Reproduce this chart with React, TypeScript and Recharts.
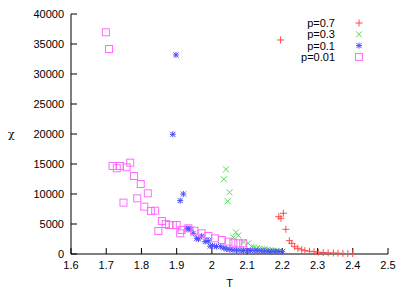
import { Legend, Scatter, ScatterChart, XAxis, YAxis } from "recharts";

// p = 0.7
const tP07 = [2.195, 2.203, 2.19, 2.196, 2.21, 2.22, 2.227, 2.235, 2.244, 2.255, 2.264, 2.277, 2.29, 2.302, 2.316, 2.33, 2.345, 2.358, 2.372, 2.386, 2.4];
const chiP07 = [35670, 6780, 6220, 5940, 4110, 2220, 1780, 1220, 940, 700, 560, 460, 380, 300, 250, 200, 160, 130, 100, 80, 60];

// p = 0.3
const tP03 = [2.04, 2.034, 2.05, 2.045, 2.068, 2.075, 2.061, 2.09, 2.103, 2.113, 2.12, 2.127, 2.135, 2.143, 2.15, 2.158, 2.166, 2.174, 2.182, 2.19, 2.2];
const chiP03 = [14110, 12450, 10280, 8780, 3600, 3100, 2780, 2000, 1780, 1220, 1100, 940, 880, 820, 750, 690, 630, 570, 520, 460, 400];

// p = 0.1
const tP01 = [1.898, 1.889, 1.919, 1.91, 1.929, 1.935, 1.94, 1.947, 1.957, 1.962, 1.971, 1.981, 1.986, 1.99, 1.995, 2.002, 2.013, 2.025, 2.034, 2.042, 2.051, 2.06, 2.07, 2.08, 2.09, 2.1, 2.11, 2.12, 2.13, 2.14, 2.15, 2.16, 2.17, 2.18, 2.19, 2.2];
const chiP01 = [33170, 19950, 10000, 8890, 4280, 4200, 4170, 3450, 2610, 2500, 3000, 2060, 2330, 2220, 1330, 1390, 1250, 1220, 1000, 830, 750, 680, 650, 620, 600, 580, 560, 540, 520, 500, 480, 460, 440, 420, 400, 380];

// p = 0.01
const tP001 = [1.699, 1.708, 1.718, 1.73, 1.739, 1.758, 1.768, 1.779, 1.798, 1.818, 1.749, 1.788, 1.808, 1.827, 1.839, 1.858, 1.848, 1.869, 1.878, 1.889, 1.9, 1.91, 1.914, 1.933, 1.95, 1.971, 1.99, 2.009, 2.028, 2.047, 2.061, 2.075, 2.089];
const chiP001 = [36950, 34170, 14670, 14280, 14670, 14450, 15220, 13000, 11670, 10110, 8560, 9280, 7890, 7170, 7220, 5500, 3830, 5000, 4830, 4830, 4830, 3450, 4000, 4280, 3880, 3450, 3000, 2610, 2330, 2060, 1890, 1780, 1780];

const xTicks = [1.6, 1.7, 1.8, 1.9, 2, 2.1, 2.2, 2.3, 2.4, 2.5];
const yTicks = [0, 5000, 10000, 15000, 20000, 25000, 30000, 35000, 40000];
const seriesNames = ["p=0.7", "p=0.3", "p=0.1", "p=0.01"];

const RED = "#ff4a4a";
const GREEN = "#4ee04e";
const BLUE = "#4a4aff";
const MAGENTA = "#ff6aff";
const FONT = "'Liberation Sans', Arial, sans-serif";

function pairs(ts: number[], chis: number[]) {
  return ts.map((t, i) => ({ t, chi: chis[i] }));
}

type Pt = { cx?: number; cy?: number };

function Plus({ cx = 0, cy = 0 }: Pt) {
  return <path d={`M${cx - 3.5},${cy}h7M${cx},${cy - 3.5}v7`} stroke={RED} strokeWidth={1} fill="none" />;
}

function Cross({ cx = 0, cy = 0 }: Pt) {
  return <path d={`M${cx - 3},${cy - 3}l6,6M${cx - 3},${cy + 3}l6,-6`} stroke={GREEN} strokeWidth={1} fill="none" />;
}

function Star({ cx = 0, cy = 0 }: Pt) {
  return (
    <path
      d={`M${cx - 3},${cy}h6M${cx},${cy - 3}v6M${cx - 2.5},${cy - 2.5}l5,5M${cx - 2.5},${cy + 2.5}l5,-5`}
      stroke={BLUE}
      strokeWidth={1}
      fill="none"
    />
  );
}

function Box({ cx = 0, cy = 0 }: Pt) {
  return <rect x={cx - 3.5} y={cy - 3.5} width={7} height={7} stroke={MAGENTA} strokeWidth={1} fill="none" />;
}

const markers = [Plus, Cross, Star, Box];

function NoLabel() {
  return <g />;
}

function KeyBox() {
  return (
    <svg width={100} height={48} style={{ display: "block" }}>
      {seriesNames.map((name, i) => {
        const y = 6 + i * 11.3;
        const Marker = markers[i];
        return (
          <g key={name}>
            <text x={55} y={y + 4} textAnchor="end" fontSize={11} fontFamily={FONT} fill="#000">
              {name}
            </text>
            <Marker cx={79} cy={y} />
          </g>
        );
      })}
    </svg>
  );
}

export default function App() {
  const tick = { fontSize: 11, fontFamily: FONT, fill: "#000" };
  return (
    <div style={{ position: "absolute", left: 0, top: 0 }}>
      <ScatterChart width={415} height={291} margin={{ top: 14, right: 27, bottom: 0, left: 8 }}>
        <XAxis
          xAxisId="b"
          dataKey="t"
          type="number"
          domain={[1.6, 2.5]}
          ticks={xTicks}
          tickFormatter={(v) => String(v)}
          height={37}
          tickSize={-6}
          tickMargin={13}
          tick={tick}
          stroke="#000"
          allowDataOverflow
          label={{ value: "T", position: "insideBottom", offset: 4, fontSize: 11, fontFamily: FONT, fill: "#000" }}
        />
        <XAxis
          xAxisId="t"
          dataKey="t"
          type="number"
          orientation="top"
          domain={[1.6, 2.5]}
          ticks={xTicks}
          height={0}
          tickSize={-6}
          tick={<NoLabel />}
          stroke="#000"
        />
        <YAxis
          yAxisId="l"
          dataKey="chi"
          type="number"
          domain={[0, 40000]}
          ticks={yTicks}
          width={63}
          tickSize={-6}
          tickMargin={13}
          tick={tick}
          stroke="#000"
          label={{ value: "χ", position: "insideLeft", offset: 0, fontSize: 11, fontFamily: "'DejaVu Serif', serif", fill: "#000" }}
        />
        <YAxis
          yAxisId="r"
          dataKey="chi"
          type="number"
          orientation="right"
          domain={[0, 40000]}
          ticks={yTicks}
          width={0}
          tickSize={-6}
          tick={<NoLabel />}
          stroke="#000"
        />
        <Legend
          layout="horizontal"
          verticalAlign="middle"
          align="center"
          content={() => <KeyBox />}
          wrapperStyle={{ position: "absolute", left: 280, top: 17, width: 100, height: 48 }}
        />
        <Scatter name="p=0.7" xAxisId="b" yAxisId="l" data={pairs(tP07, chiP07)} shape={<Plus />} isAnimationActive={false} />
        <Scatter name="p=0.3" xAxisId="b" yAxisId="l" data={pairs(tP03, chiP03)} shape={<Cross />} isAnimationActive={false} />
        <Scatter name="p=0.1" xAxisId="b" yAxisId="l" data={pairs(tP01, chiP01)} shape={<Star />} isAnimationActive={false} />
        <Scatter name="p=0.01" xAxisId="b" yAxisId="l" data={pairs(tP001, chiP001)} shape={<Box />} isAnimationActive={false} />
      </ScatterChart>
    </div>
  );
}
